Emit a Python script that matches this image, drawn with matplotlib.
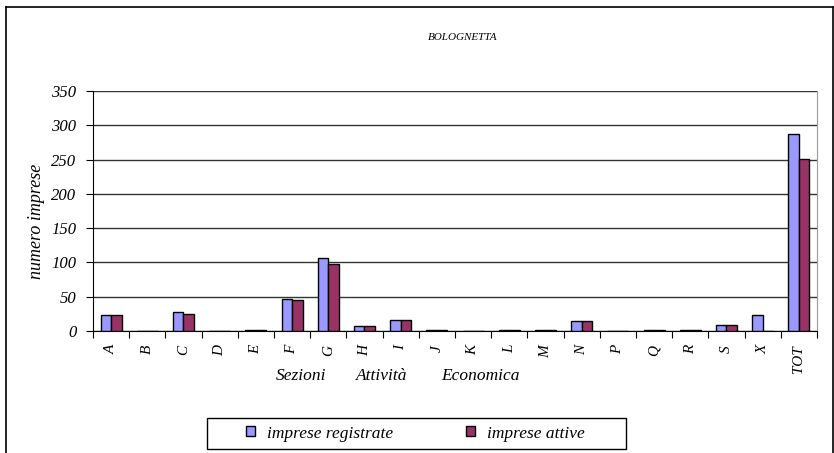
import numpy as np
import matplotlib
matplotlib.use("Agg")
from matplotlib import pyplot as plt
from matplotlib.lines import Line2D
from matplotlib.patches import Rectangle

sezioni = ['A', 'B', 'C', 'D', 'E', 'F', 'G', 'H', 'I', 'J', 'K', 'L', 'M',
           'N', 'P', 'Q', 'R', 'S', 'X', 'TOT']
registrate = [24, 0, 27, 0, 1, 46, 106, 8, 16, 1, 0.5, 1, 1, 15, 0, 1, 1, 9, 23, 287]
attive = [23, 0, 25, 0, 1, 45, 98, 8, 16, 1, 0.5, 1, 1, 14, 0, 1, 1, 9, 0, 251]
yticks = [0, 50, 100, 150, 200, 250, 300, 350]

plt.rcParams['font.family'] = ['Liberation Serif', 'DejaVu Serif']
plt.rcParams['font.style'] = 'italic'

fig = plt.figure(figsize=(8.34, 4.53), dpi=100)
ax = fig.add_axes([0.1115, 0.2693, 0.868, 0.5298])

x = np.arange(len(sezioni))
w = 0.29
ax.bar(x - w / 2, registrate, w, color='#9999FF', edgecolor='black', linewidth=1,
       label='imprese registrate', zorder=3)
ax.bar(x + w / 2, attive, w, color='#993366', edgecolor='black', linewidth=1,
       label='imprese attive', zorder=3)

ax.set_xlim(-0.5, len(sezioni) - 0.5)
ax.set_ylim(0, 350)
ax.set_yticks(yticks)
ax.set_yticklabels([str(v) for v in yticks], fontsize=12)
ax.yaxis.grid(True, color='#333333', linewidth=1, zorder=0)

ax.set_xticks(np.arange(len(sezioni) + 1) - 0.5)
ax.set_xticklabels([])
ax.set_xticks(x, minor=True)
ax.set_xticklabels(sezioni, minor=True, rotation=90, fontsize=11)
ax.tick_params(axis='x', which='minor', length=0, pad=10)
ax.tick_params(axis='x', which='major', length=5, direction='out', color='black')
ax.tick_params(axis='y', length=5, direction='out', pad=7)

ax.spines['top'].set_visible(False)
ax.spines['right'].set_color('#999999')
ax.spines['left'].set_color('black')
ax.spines['bottom'].set_color('black')

ax.set_ylabel('numero imprese', fontsize=13)
ax.yaxis.set_label_coords(-0.066, 0.458)
fig.text(0.555, 0.918, 'BOLOGNETTA', fontsize=8, ha='center', va='center')
fig.text(0.361, 0.171, 'Sezioni', fontsize=12.5, ha='center', va='center')
fig.text(0.458, 0.171, 'Attività', fontsize=12.5, ha='center', va='center')
fig.text(0.5755, 0.171, 'Economica', fontsize=12.5, ha='center', va='center')

# legenda con cornice larga come nell'originale
leg = fig.legend(loc='center', bbox_to_anchor=(0.498, 0.043), ncol=2,
                 fontsize=12.5, frameon=False,
                 handlelength=0.5, handleheight=0.5, columnspacing=4.2,
                 handletextpad=0.7)
fig.add_artist(Rectangle((0.248, 0.0088), 0.502, 0.0684, transform=fig.transFigure,
                         fill=False, edgecolor='black', linewidth=1))

# cornice esterna
fig.add_artist(Line2D([0.0072, 0.0072], [0, 0.985], color='black', linewidth=1.2))
fig.add_artist(Line2D([0.0072, 0.9985], [0.985, 0.985], color='black', linewidth=1.2))
fig.add_artist(Line2D([0.9985, 0.9985], [0, 0.985], color='black', linewidth=1.2))

fig.savefig('out.png', dpi=100)
